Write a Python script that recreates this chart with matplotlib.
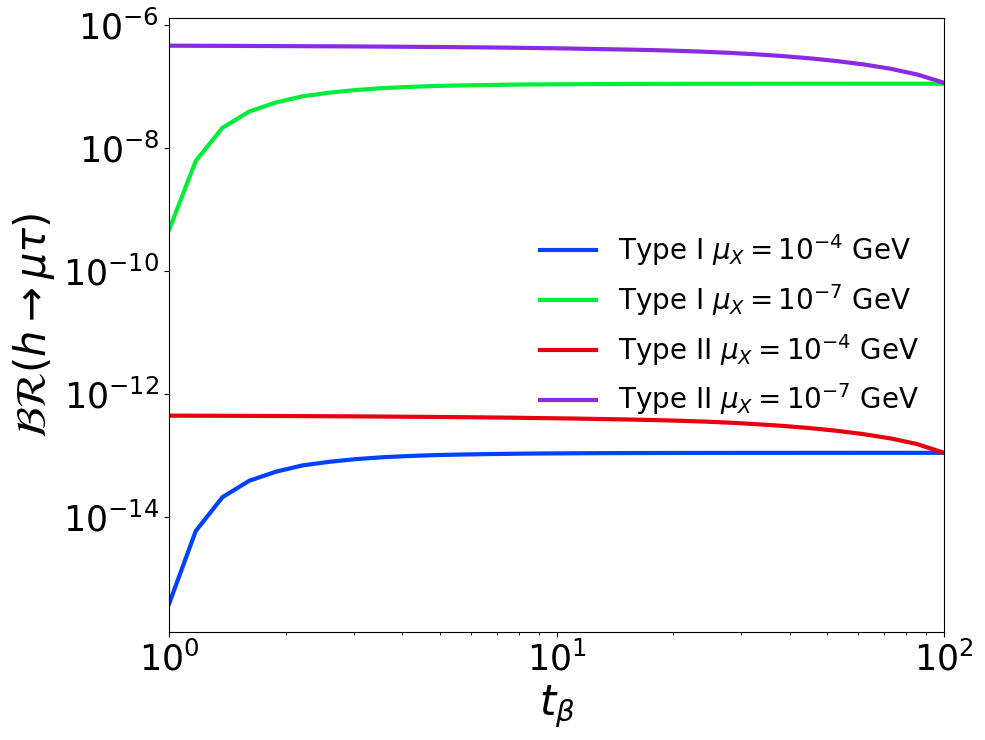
import numpy as np
import matplotlib
matplotlib.use("Agg")
import matplotlib.pyplot as plt
from matplotlib.ticker import NullLocator

# tan(beta) grid (30 points, log spaced 1..100)
t_beta = np.logspace(0, 2, 30)

# Type I, mu_X = 1e-7 GeV  (units of 1e-7)
type1_m7 = [0.0047, 0.062, 0.215, 0.395, 0.555, 0.70, 0.80, 0.885, 0.95, 0.995,
            1.03, 1.052, 1.069, 1.083, 1.093, 1.100, 1.105, 1.109, 1.112, 1.114,
            1.116, 1.117, 1.118, 1.118, 1.119, 1.119, 1.120, 1.120, 1.120, 1.120]
# Type I, mu_X = 1e-4 GeV  (units of 1e-13)
type1_m4 = [0.0039, 0.060, 0.213, 0.393, 0.553, 0.70, 0.80, 0.885, 0.95, 0.995,
            1.03, 1.052, 1.069, 1.083, 1.093, 1.100, 1.105, 1.109, 1.112, 1.114,
            1.116, 1.117, 1.118, 1.118, 1.119, 1.119, 1.120, 1.120, 1.120, 1.120]
# Type II, mu_X = 1e-7 GeV  (units of 1e-7)
type2_m7 = [4.65, 4.63, 4.62, 4.60, 4.58, 4.56, 4.54, 4.52, 4.49, 4.46,
            4.43, 4.39, 4.35, 4.30, 4.24, 4.18, 4.10, 4.03, 3.95, 3.84,
            3.71, 3.55, 3.36, 3.14, 2.89, 2.61, 2.30, 1.96, 1.58, 1.16]
# Type II, mu_X = 1e-4 GeV  (units of 1e-13)
type2_m4 = [4.50, 4.49, 4.48, 4.46, 4.44, 4.42, 4.40, 4.38, 4.35, 4.32,
            4.29, 4.25, 4.21, 4.16, 4.10, 4.05, 3.98, 3.91, 3.83, 3.73,
            3.61, 3.46, 3.27, 3.06, 2.82, 2.55, 2.25, 1.92, 1.55, 1.12]

fig = plt.figure(figsize=(9.85, 7.4), dpi=100)
ax = fig.add_axes([0.1716, 0.146, 0.7868, 0.830])

ax.plot(t_beta, np.array(type1_m4) * 1e-13, color='#0040ff', lw=3,
        label=r'Type I $\mu_X = 10^{-4}$ GeV')
ax.plot(t_beta, np.array(type1_m7) * 1e-7, color='#00ee3a', lw=3,
        label=r'Type I $\mu_X = 10^{-7}$ GeV')
ax.plot(t_beta, np.array(type2_m4) * 1e-13, color='#e8000f', lw=3,
        label=r'Type II $\mu_X = 10^{-4}$ GeV')
ax.plot(t_beta, np.array(type2_m7) * 1e-7, color='#8a2be2', lw=3,
        label=r'Type II $\mu_X = 10^{-7}$ GeV')

ax.set_xscale('log')
ax.set_yscale('log')
ax.set_xlim(1, 100)
ax.set_yticks([1e-14, 1e-12, 1e-10, 1e-8, 1e-6])
ax.yaxis.set_minor_locator(NullLocator())
ax.tick_params(axis='both', which='major', labelsize=25)

ax.set_xlabel(r'$t_\beta$', fontsize=30)
ax.set_ylabel(r'$\mathcal{BR}(h{\to}\mu\tau)$', fontsize=30)

ax.legend(loc='center right', frameon=False, fontsize=20)

fig.savefig('out.png', dpi=100)
